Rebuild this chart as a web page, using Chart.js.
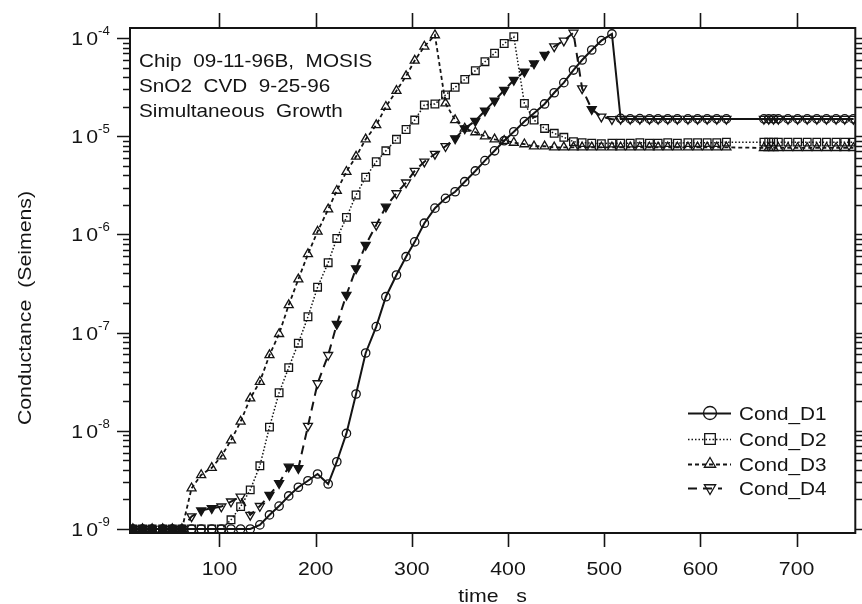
<!DOCTYPE html>
<html>
<head>
<meta charset="utf-8">
<script src="https://cdn.jsdelivr.net/npm/chart.js@4.4.1/dist/chart.umd.min.js"></script>
<style>
  html, body { margin: 0; padding: 0; background: #fff; }
  #wrap { width: 862px; height: 604px; }
</style>
</head>
<body>
<div id="wrap"><canvas id="chart" width="862" height="604"></canvas></div>
<script>
// sample times (s), shared by all four devices
const timeS = [10, 20, 30, 41, 51, 61, 71, 81, 92, 102,
  112, 122, 132, 142, 152, 162, 172, 182, 192, 202,
  213, 222, 232, 242, 252, 263, 273, 284, 294, 303,
  313, 324, 335, 345, 355, 366, 376, 386, 396, 406,
  417, 427, 438, 448, 458, 468, 477, 487, 497, 508,
  517, 527, 537, 547, 556, 566, 576, 587, 597, 607,
  617, 627, 666, 671, 676, 681, 691, 701, 711, 721,
  731, 741, 750, 759];

// conductance in Siemens
const condD1 = [1e-9, 1e-9, 1e-9, 1e-9, 1e-9, 1e-9, 1e-9, 1e-9, 1e-9, 1e-9,
  1e-9, 1e-9, 1e-9, 1.1e-9, 1.39e-9, 1.71e-9, 2.17e-9, 2.66e-9, 3.1e-9, 3.63e-9,
  2.87e-9, 4.84e-9, 9.4e-9, 2.37e-8, 6.2e-8, 1.15e-7, 2.32e-7, 3.86e-7, 5.93e-7, 8.4e-7,
  1.3e-6, 1.85e-6, 2.33e-6, 2.72e-6, 3.44e-6, 4.43e-6, 5.64e-6, 7.1e-6, 9.0e-6, 1.11e-5,
  1.41e-5, 1.71e-5, 2.13e-5, 2.77e-5, 3.51e-5, 4.72e-5, 5.97e-5, 7.55e-5, 9.4e-5, 1.1e-4,
  1.52e-5, 1.5e-5, 1.51e-5, 1.5e-5, 1.5e-5, 1.5e-5, 1.5e-5, 1.5e-5, 1.5e-5, 1.5e-5,
  1.5e-5, 1.5e-5, 1.5e-5, 1.5e-5, 1.5e-5, 1.5e-5, 1.5e-5, 1.5e-5, 1.5e-5, 1.5e-5,
  1.5e-5, 1.5e-5, 1.5e-5, 1.5e-5];

const condD2 = [1e-9, 1e-9, 1e-9, 1e-9, 1e-9, 1e-9, 1e-9, 1e-9, 1e-9, 1e-9,
  1.24e-9, 1.69e-9, 2.5e-9, 4.4e-9, 1.09e-8, 2.44e-8, 4.4e-8, 7.8e-8, 1.45e-7, 2.9e-7,
  5.15e-7, 9.1e-7, 1.49e-6, 2.52e-6, 3.82e-6, 5.5e-6, 7.1e-6, 9.3e-6, 1.17e-5, 1.46e-5,
  2.08e-5, 2.13e-5, 2.63e-5, 3.15e-5, 3.79e-5, 4.65e-5, 5.74e-5, 7.0e-5, 8.8e-5, 1.03e-4,
  2.16e-5, 1.46e-5, 1.2e-5, 1.07e-5, 9.75e-6, 8.8e-6, 8.6e-6, 8.5e-6, 8.4e-6, 8.5e-6,
  8.5e-6, 8.5e-6, 8.6e-6, 8.5e-6, 8.5e-6, 8.6e-6, 8.5e-6, 8.6e-6, 8.6e-6, 8.6e-6,
  8.6e-6, 8.7e-6, 8.7e-6, 8.7e-6, 8.7e-6, 8.7e-6, 8.7e-6, 8.7e-6, 8.7e-6, 8.7e-6,
  8.7e-6, 8.7e-6, 8.7e-6, 8.7e-6];

const condD3 = [1e-9, 1e-9, 1e-9, 1e-9, 1e-9, 1e-9, 2.6e-9, 3.55e-9, 4.2e-9, 5.5e-9,
  8.0e-9, 1.24e-8, 2.14e-8, 3.16e-8, 5.9e-8, 9.7e-8, 1.91e-7, 3.49e-7, 6.3e-7, 1.07e-6,
  1.8e-6, 2.79e-6, 4.35e-6, 6.2e-6, 9.3e-6, 1.3e-5, 2.0e-5, 2.9e-5, 4.1e-5, 5.9e-5,
  8.2e-5, 1.07e-4, 2.16e-5, 1.46e-5, 1.2e-5, 1.1e-5, 1.0e-5, 9.3e-6, 9.0e-6, 8.6e-6,
  8.3e-6, 7.9e-6, 7.9e-6, 7.7e-6, 7.7e-6, 7.7e-6, 7.7e-6, 7.7e-6, 7.7e-6, 7.7e-6,
  7.7e-6, 7.7e-6, 7.7e-6, 7.7e-6, 7.7e-6, 7.7e-6, 7.7e-6, 7.7e-6, 7.7e-6, 7.7e-6,
  7.7e-6, 7.7e-6, 7.6e-6, 7.6e-6, 7.6e-6, 7.6e-6, 7.6e-6, 7.6e-6, 7.6e-6, 7.6e-6,
  7.6e-6, 7.6e-6, 7.6e-6, 7.6e-6];

const condD4 = [1e-9, 1e-9, 1e-9, 1e-9, 1e-9, 1e-9, 1.34e-9, 1.54e-9, 1.63e-9, 1.69e-9,
  1.9e-9, 2.13e-9, 1.39e-9, 1.71e-9, 2.22e-9, 2.92e-9, 4.3e-9, 4.15e-9, 1.12e-8, 3.04e-8,
  5.9e-8, 1.22e-7, 2.42e-7, 4.5e-7, 7.8e-7, 1.25e-6, 1.91e-6, 2.62e-6, 3.37e-6, 4.43e-6,
  5.5e-6, 6.6e-6, 7.9e-6, 9.5e-6, 1.2e-5, 1.43e-5, 1.82e-5, 2.3e-5, 2.95e-5, 3.73e-5,
  4.54e-5, 5.5e-5, 6.7e-5, 8.2e-5, 9.4e-5, 1.13e-4, 3.07e-5, 1.88e-5, 1.58e-5, 1.49e-5,
  1.5e-5, 1.5e-5, 1.5e-5, 1.5e-5, 1.5e-5, 1.5e-5, 1.5e-5, 1.5e-5, 1.5e-5, 1.5e-5,
  1.5e-5, 1.5e-5, 1.5e-5, 1.5e-5, 1.5e-5, 1.5e-5, 1.5e-5, 1.5e-5, 1.5e-5, 1.5e-5,
  1.5e-5, 1.5e-5, 1.5e-5, 1.5e-5];

const seriesNames = ["Cond_D1", "Cond_D2", "Cond_D3", "Cond_D4"];
const xTickLabels = [100, 200, 300, 400, 500, 600, 700];
const yDecades = [-9, -8, -7, -6, -5, -4];
const noteLines = ["Chip  09-11-96B,  MOSIS", "SnO2  CVD  9-25-96", "Simultaneous  Growth"];

// markers that came out solid in the print (indices into timeS)
const d2SolidMarks = [0, 1, 2, 3, 4, 5];
const d4SolidMarks = [7, 8, 14, 15, 16, 17, 21, 22, 23, 24, 26, 33, 34, 35, 36, 37, 38, 39, 40, 41, 42, 47];
const solidMarks = [[], d2SolidMarks, [], d4SolidMarks];

const INK = "#141414";
const CLEAR = "rgba(0,0,0,0)";
const FONT = '"Liberation Sans", Arial, Helvetica, sans-serif';

const looks = [
  { pointStyle: "circle", radius: 4.2, rotation: 0, width: 2, dash: [], legendR: 6.5 },
  { pointStyle: "rect", radius: 5.4, rotation: 0, width: 1.5, dash: [1.5, 2], legendR: 7.5 },
  { pointStyle: "triangle", radius: 5.2, rotation: 0, width: 1.8, dash: [4, 3], legendR: 6.5 },
  { pointStyle: "triangle", radius: 5.2, rotation: 180, width: 2, dash: [9, 6], legendR: 6.5 },
];

// text slightly stretched sideways, like the old plotter font
function wideText(ctx, s, x, y, size, align, sx = 1.12) {
  ctx.save();
  ctx.font = `${size}px ${FONT}`;
  ctx.textAlign = align || "left";
  ctx.textBaseline = "alphabetic";
  ctx.translate(x, y);
  ctx.scale(sx, 1);
  ctx.fillText(s, 0, 0);
  ctx.restore();
}

const axesFrame = {
  id: "axesFrame",
  afterDraw(chart) {
    const { ctx, chartArea: a, scales: { x, y } } = chart;
    ctx.save();
    ctx.strokeStyle = INK;
    ctx.fillStyle = INK;

    // frame
    ctx.lineWidth = 2;
    ctx.strokeRect(a.left, a.top, a.right - a.left, a.bottom - a.top);

    // ticks
    ctx.lineWidth = 1.6;
    ctx.beginPath();
    xTickLabels.forEach(v => {
      const px = Math.round(x.getPixelForValue(v)) + 0.5;
      ctx.moveTo(px, a.bottom); ctx.lineTo(px, a.bottom + 14);
      ctx.moveTo(px, a.top); ctx.lineTo(px, a.top - 15);
    });
    yDecades.forEach(e => {
      for (let m = 1; m <= 9; m++) {
        const v = m * Math.pow(10, e);
        if (v < y.min || v > y.max) continue;
        const py = Math.round(y.getPixelForValue(v)) + 0.5;
        const len = m === 1 ? 13 : 7;
        ctx.moveTo(a.left - len, py); ctx.lineTo(a.left, py);
        ctx.moveTo(a.right, py); ctx.lineTo(a.right + len, py);
      }
    });
    ctx.stroke();

    // x tick labels
    xTickLabels.forEach(v => {
      wideText(ctx, String(v), x.getPixelForValue(v), a.bottom + 42, 19, "center");
    });

    // y tick labels 10^e
    yDecades.forEach(e => {
      const py = y.getPixelForValue(Math.pow(10, e));
      const supX = a.left - 32;
      wideText(ctx, "-" + Math.abs(e), supX, py - 3, 12, "left", 1.1);
      wideText(ctx, "0", supX, py + 7, 19, "right");
      wideText(ctx, "1", supX - 15, py + 7, 19, "right");
    });

    // axis titles
    wideText(ctx, "time   s", (a.left + a.right) / 2, 602, 19, "center");
    ctx.save();
    ctx.translate(31, 308);
    ctx.rotate(-Math.PI / 2);
    wideText(ctx, "Conductance  (Seimens)", 0, 0, 19, "center");
    ctx.restore();

    // note in the upper left corner
    noteLines.forEach((s, i) => wideText(ctx, s, a.left + 9, 67 + i * 25, 18.5, "left"));

    // legend
    const rowY = [413, 439, 464, 488];
    looks.forEach((lk, i) => {
      const cy = rowY[i];
      ctx.save();
      ctx.lineWidth = lk.width;
      ctx.setLineDash(lk.dash);
      ctx.beginPath();
      ctx.moveTo(688, cy + 0.5);
      ctx.lineTo(i === 3 ? 722 : 731, cy + 0.5);
      ctx.stroke();
      ctx.restore();
      ctx.save();
      ctx.lineWidth = 1.3;
      ctx.fillStyle = CLEAR;
      Chart.helpers.drawPoint(ctx, {
        pointStyle: lk.pointStyle, radius: lk.legendR, rotation: lk.rotation, borderWidth: 1.3
      }, 710, cy);
      ctx.restore();
      wideText(ctx, seriesNames[i], 739, cy + 7, 18.5, "left");
    });
    ctx.restore();
  }
};

const seriesValues = [condD1, condD2, condD3, condD4];
const datasets = seriesValues.map((vals, i) => ({
  label: seriesNames[i],
  data: timeS.map((t, k) => ({ x: t, y: vals[k] })),
  borderColor: INK,
  borderWidth: looks[i].width,
  borderDash: looks[i].dash,
  pointStyle: looks[i].pointStyle,
  pointRadius: looks[i].radius,
  pointRotation: looks[i].rotation,
  pointBorderWidth: 1.3,
  pointBorderColor: INK,
  pointBackgroundColor: (c) => (solidMarks[i].includes(c.dataIndex) ? INK : CLEAR),
  tension: 0,
  fill: false
}));

const chart = new Chart(document.getElementById("chart").getContext("2d"), {
  type: "line",
  data: { datasets },
  options: {
    responsive: false,
    animation: false,
    devicePixelRatio: 1,
    layout: { padding: { left: 130, right: 3, top: 28, bottom: 71 } },
    scales: {
      x: { type: "linear", min: 7, max: 761, display: false },
      y: { type: "logarithmic", min: 9.1e-10, max: 1.265e-4, display: false }
    },
    plugins: {
      legend: { display: false },
      tooltip: { enabled: false }
    }
  },
  plugins: [axesFrame]
});
</script>
</body>
</html>
